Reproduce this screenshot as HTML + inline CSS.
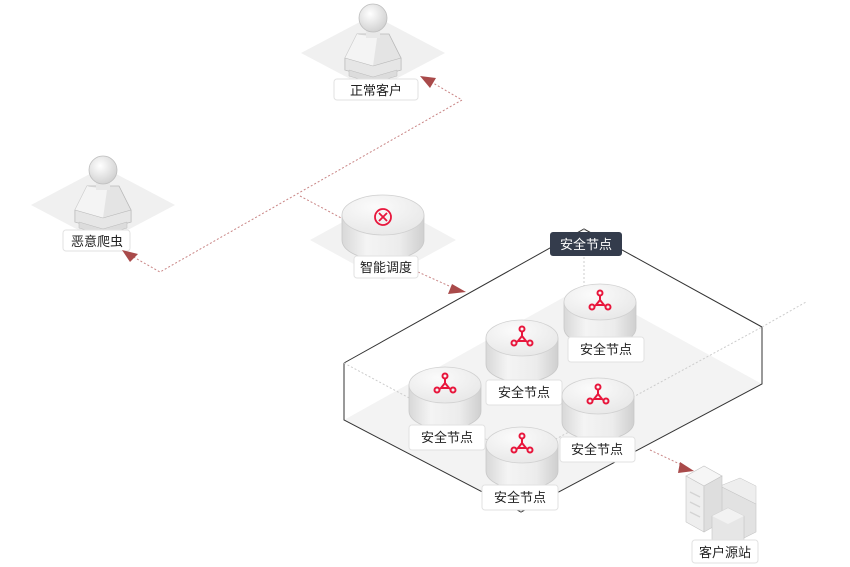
<!DOCTYPE html>
<html><head><meta charset="utf-8"><style>
html,body{margin:0;padding:0;background:#fff;}
svg{display:block;font-family:"Liberation Sans","Noto Sans CJK SC",sans-serif;}
.lb{fill:#fff;stroke:#e2e2e2;stroke-width:1;}
.t{font-size:13px;fill:#222;text-anchor:middle;}
.dot{fill:none;stroke:#c98585;stroke-width:1;stroke-dasharray:2 2;}
.dg{fill:none;stroke:#ccc;stroke-width:1;stroke-dasharray:2 2;}
</style></head><body>
<svg width="850" height="567" viewBox="0 0 850 567">
<defs>
<linearGradient id="cyl" x1="0" x2="1" y1="0" y2="0">
<stop offset="0" stop-color="#d8d8d8"/><stop offset="0.3" stop-color="#f4f4f4"/><stop offset="0.7" stop-color="#ececec"/><stop offset="1" stop-color="#cfcfcf"/></linearGradient>
<radialGradient id="top" cx="0.4" cy="0.3" r="0.8"><stop offset="0" stop-color="#fbfbfb"/><stop offset="1" stop-color="#e6e6e6"/></radialGradient>
<radialGradient id="head" cx="0.4" cy="0.35" r="0.7"><stop offset="0" stop-color="#fff"/><stop offset="1" stop-color="#cfcfcf"/></radialGradient>
<g id="node">
<path d="M-36,0 L-36,26 A36,18 0 0 0 36,26 L36,0 Z" fill="url(#cyl)" stroke="#c8c8c8" stroke-width="0.8"/>
<ellipse cx="0" cy="0" rx="36" ry="18" fill="url(#top)" stroke="#d0d0d0" stroke-width="0.8"/>
<g fill="none" stroke="#e8163c" stroke-width="2">
<circle cx="0" cy="-9" r="2.5"/><circle cx="-8" cy="5" r="2.5"/><circle cx="8" cy="5" r="2.5"/>
<path d="M0,-6.5 L0,-2 M-4,3 L-6,4.5 M4,3 L6,4.5 M0,-2 L-4,3 L4,3 Z"/>
</g>
</g>
<g id="person">
<path d="M-72,38 L0,0 L72,38 L0,76 Z" fill="#f0f0f0" transform="translate(0,1)"/>
<path d="M-16,20 L16,20 L28,44 L28,56 L0,64 L-28,56 L-28,44 Z" fill="#e4e4e4" stroke="#b8b8b8" stroke-width="0.8"/>
<path d="M-16,20 L-28,44 L0,52 L4,24 Z" fill="#f4f4f4"/>
<path d="M-28,44 L0,52 L28,44 L28,56 L0,64 L-28,56 Z" fill="#e6e6e6" stroke="#b8b8b8" stroke-width="0.6"/>
<path d="M-24,56 L0,63 L24,56 L24,62 L0,69 L-24,62 Z" fill="#dcdcdc" stroke="#bbb" stroke-width="0.5"/>
<rect x="-7" y="12" width="14" height="12" fill="#e8e8e8"/>
<circle cx="0" cy="4" r="14" fill="url(#head)" stroke="#bdbdbd" stroke-width="0.8"/>
</g>
</defs>

<g transform="translate(373,14)"><use href="#person"/></g>
<rect class="lb" x="334" y="79" width="84" height="21" rx="3"/><text class="t" x="376" y="95">正常客户</text>
<g transform="translate(103,166)"><use href="#person"/></g>
<rect class="lb" x="63" y="230" width="67" height="21" rx="3"/><text class="t" x="97" y="246">恶意爬虫</text>

<path class="dot" d="M130,255 L160,272 L462,100 L428,80"/>
<path class="dot" d="M300,196 L345,220"/>
<path class="dot" d="M418,272 L458,290"/>
<path class="dot" d="M650,450 L684,466"/>
<polygon points="420,76 436,78 430,88" fill="#a94a4a"/>
<polygon points="122,250 138,254 130,262" fill="#a94a4a"/>
<polygon points="466,292 452,284 448,294" fill="#a94a4a"/>
<polygon points="694,471 680,462 678,473" fill="#a94a4a"/>

<path d="M310,240 L383,200 L456,240 L383,280 Z" fill="#f2f2f2"/>
<path d="M342,215 L342,240 A41,20 0 0 0 424,240 L424,215 Z" fill="url(#cyl)" stroke="#c8c8c8" stroke-width="0.8"/>
<ellipse cx="383" cy="215" rx="41" ry="20" fill="url(#top)" stroke="#d0d0d0" stroke-width="0.8"/>
<circle cx="383" cy="217" r="8" fill="none" stroke="#e8163c" stroke-width="1.8"/>
<path d="M379,213 L387,221 M387,213 L379,221" stroke="#e8163c" stroke-width="1.8"/>
<rect class="lb" x="354" y="256" width="64" height="22" rx="3"/><text class="t" x="386" y="272">智能调度</text>

<path d="M344,420 L521,512 L762,384 L584,286 Z" fill="#f3f3f3"/>
<path d="M344,363 L584,229 L762,327" fill="none" stroke="#333" stroke-width="1"/>
<path d="M344,363 L344,420 L521,512 L762,384 L762,327" fill="none" stroke="#333" stroke-width="1"/>
<path class="dg" d="M344,363 L521,458 L762,327 M521,458 L521,512 M584,229 L584,286 M762,327 L806,302"/>

<use href="#node" x="600" y="302"/>
<rect class="lb" x="568" y="337" width="76" height="25" rx="3"/><text class="t" x="606" y="354">安全节点</text>
<use href="#node" x="522" y="338"/>
<rect class="lb" x="486" y="380" width="76" height="25" rx="3"/><text class="t" x="524" y="397">安全节点</text>
<use href="#node" x="445" y="385"/>
<rect class="lb" x="409" y="425" width="76" height="25" rx="3"/><text class="t" x="447" y="442">安全节点</text>
<use href="#node" x="598" y="396"/>
<rect class="lb" x="560" y="437" width="75" height="25" rx="3"/><text class="t" x="597" y="454">安全节点</text>
<use href="#node" x="522" y="445"/>
<rect class="lb" x="482" y="485" width="76" height="25" rx="3"/><text class="t" x="520" y="502">安全节点</text>

<rect x="550" y="232" width="72" height="24" rx="3" fill="#343c4c"/>
<text x="586" y="249" font-size="13" fill="#fff" text-anchor="middle">安全节点</text>

<polygon points="720,486 756,504 756,532 720,550" fill="#e2e2e2" stroke="#c4c4c4" stroke-width="0.6"/>
<polygon points="720,486 740,478 756,486 756,504" fill="#eee" stroke="#c4c4c4" stroke-width="0.5"/>
<polygon points="686,476 704,466 722,476 704,486" fill="#f6f6f6" stroke="#c4c4c4" stroke-width="0.6"/>
<polygon points="686,476 704,486 704,532 686,522" fill="#eeeeee" stroke="#c4c4c4" stroke-width="0.6"/>
<polygon points="704,486 722,476 722,522 704,532" fill="#dedede" stroke="#c4c4c4" stroke-width="0.6"/>
<g stroke="#d4d4d4" stroke-width="1.5"><path d="M690,492 L700,497 M690,502 L700,507 M690,512 L700,517"/></g>
<polygon points="712,516 728,508 744,516 744,540 728,548 712,540" fill="#e6e6e6" stroke="#c4c4c4" stroke-width="0.6"/>
<polygon points="712,516 728,524 744,516 728,508" fill="#f2f2f2"/>
<rect class="lb" x="692" y="540" width="66" height="23" rx="3"/><text class="t" x="725" y="557">客户源站</text>
</svg>
</body></html>
